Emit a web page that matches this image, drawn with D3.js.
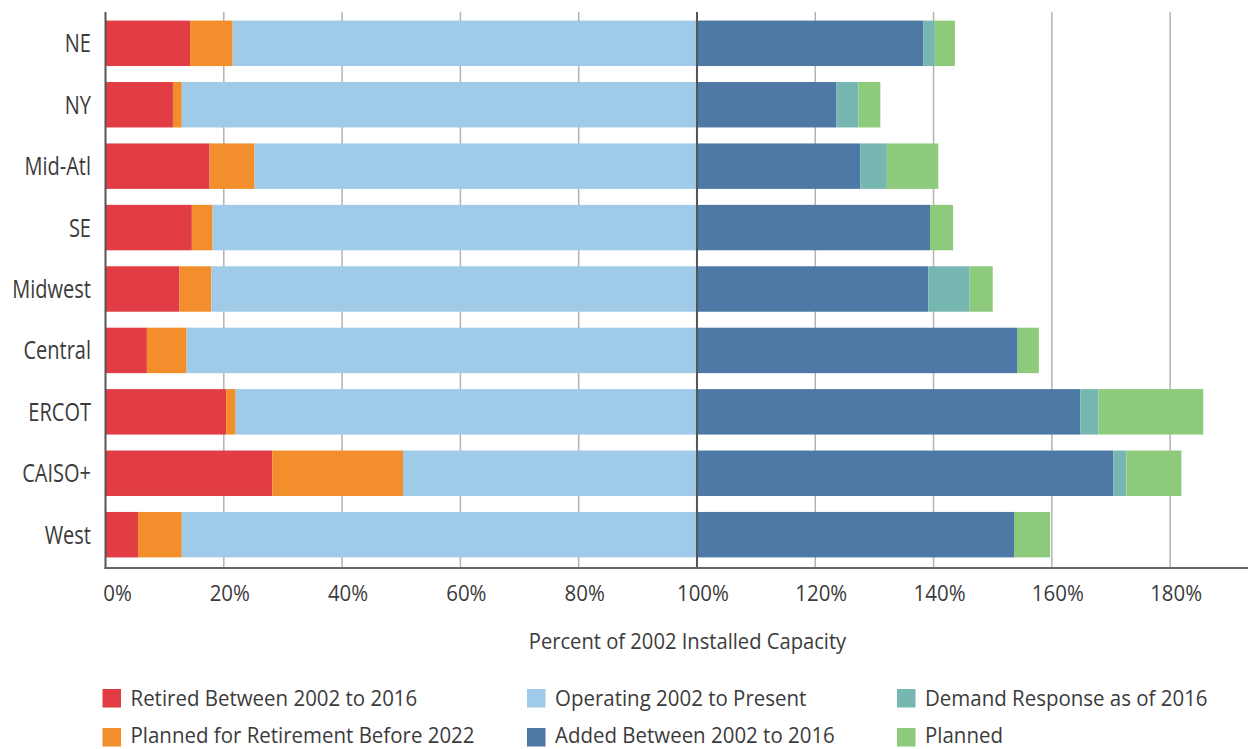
<!DOCTYPE html>
<html>
<head>
<meta charset="utf-8">
<script src="https://cdn.jsdelivr.net/npm/d3@7"></script>
<style>
  html, body { margin: 0; padding: 0; background: #fff; }
  svg { display: block; font-family: "Open Sans", "Noto Sans", sans-serif; }
</style>
</head>
<body>
<svg id="chart" width="1248" height="749"></svg>
<script>
const categories = ["NE", "NY", "Mid-Atl", "SE", "Midwest", "Central", "ERCOT", "CAISO+", "West"];
const retired            = [14.3, 11.4, 17.6, 14.6, 12.5,  7.0, 20.4, 28.2,  5.5];
const plannedRetirement  = [ 7.2,  1.5,  7.6,  3.5,  5.4,  6.7,  1.6, 22.1,  7.4];
const operating          = [78.5, 87.1, 74.8, 81.9, 82.1, 86.3, 78.0, 49.7, 87.1];
const added              = [38.3, 23.6, 27.6, 39.4, 39.1, 54.2, 64.8, 70.4, 53.6];
const demandResponse     = [ 1.9,  3.7,  4.5,  0.0,  7.0,  0.0,  3.1,  2.2,  0.0];
const planned            = [ 3.4,  3.7,  8.7,  3.9,  3.9,  3.6, 17.7,  9.3,  6.1];
const tickValues = [0, 20, 40, 60, 80, 100, 120, 140, 160, 180];
const axisTitle = "Percent of 2002 Installed Capacity";
const seriesNames = ["Retired Between 2002 to 2016", "Planned for Retirement Before 2022",
  "Operating 2002 to Present", "Added Between 2002 to 2016", "Demand Response as of 2016", "Planned"];
const seriesKeys = ["retired", "plannedRetirement", "operating", "added", "demandResponse", "planned"];
const seriesColors = ["#e23d44", "#f28e2b", "#a0cbe8", "#4e79a7", "#76b7b2", "#8dca7c"];

const rows = categories.map((c, i) => ({
  category: c,
  retired: retired[i], plannedRetirement: plannedRetirement[i], operating: operating[i],
  added: added[i], demandResponse: demandResponse[i], planned: planned[i]
}));

const svg = d3.select("#chart");
const x = d3.scaleLinear().domain([0, 190]).range([105.5, 1229.3]);
const y = d3.scaleBand().domain(categories).range([12, 566]).paddingInner(0.26).paddingOuter(0.14);
const plotTop = 12, plotBottom = 568;
const textColor = "#3b3b3b";

function condense(sel, k) {
  sel.each(function () {
    const w = this.getComputedTextLength();
    d3.select(this).attr("textLength", w * k).attr("lengthAdjust", "spacingAndGlyphs");
  });
}

// gridlines
svg.append("g").selectAll("line").data(tickValues.filter(v => v !== 0 && v !== 100)).join("line")
  .attr("x1", d => x(d)).attr("x2", d => x(d))
  .attr("y1", plotTop).attr("y2", plotBottom)
  .attr("stroke", "#b3b3b3").attr("stroke-width", 1.5);

// bars
const stack = d3.stack().keys(seriesKeys);
const stacked = stack(rows);
const color = d3.scaleOrdinal().domain(seriesKeys).range(seriesColors);
svg.append("g").selectAll("g").data(stacked).join("g")
  .attr("fill", d => color(d.key))
  .selectAll("rect").data(d => d).join("rect")
  .attr("x", d => x(d[0]))
  .attr("width", d => Math.max(0, x(d[1]) - x(d[0])))
  .attr("y", d => y(d.data.category))
  .attr("height", y.bandwidth());

// 100% line and axes
svg.append("line").attr("x1", x(100)).attr("x2", x(100)).attr("y1", plotTop).attr("y2", plotBottom)
  .attr("stroke", "#555").attr("stroke-width", 2);
svg.append("line").attr("x1", x(0)).attr("x2", x(0)).attr("y1", plotTop).attr("y2", plotBottom + 1)
  .attr("stroke", "#555").attr("stroke-width", 2);
svg.append("line").attr("x1", x(0) - 1).attr("x2", 1248).attr("y1", plotBottom).attr("y2", plotBottom)
  .attr("stroke", "#666").attr("stroke-width", 2);

// y labels
const yl = svg.append("g").selectAll("text").data(categories).join("text")
  .attr("x", 91).attr("y", d => y(d) + y.bandwidth() / 2).attr("dy", "0.36em")
  .attr("text-anchor", "end").attr("font-size", 25).attr("fill", textColor)
  .text(d => d);
condense(yl, 0.8);

// x tick labels
const xl = svg.append("g").selectAll("text").data(tickValues).join("text")
  .attr("x", d => x(d) + (d === 0 ? 12 : 6)).attr("y", 600.5)
  .attr("text-anchor", "middle").attr("font-size", 22).attr("fill", textColor)
  .text(d => d + "%");
condense(xl, 0.93);

// axis title
const at = svg.append("text").attr("x", 687.5).attr("y", 649)
  .attr("text-anchor", "middle").attr("font-size", 21).attr("fill", textColor)
  .text(axisTitle);
condense(at, 0.96);

// legend
const legendCols = [102.5, 527, 897];
const legendRows = [698.5, 737.5];
const legendItems = seriesNames.map((name, i) => ({
  name, color: seriesColors[i], col: Math.floor(i / 2), row: i % 2
}));
const lg = svg.append("g").selectAll("g").data(legendItems).join("g")
  .attr("transform", d => `translate(${legendCols[d.col]},${legendRows[d.row]})`);
lg.append("rect").attr("x", 0).attr("y", -9.5).attr("width", 18.5).attr("height", 18.5)
  .attr("fill", d => d.color);
const lt = lg.append("text").attr("x", 28).attr("y", d => d.row === 1 ? -2 : 0).attr("dy", "0.36em")
  .attr("font-size", 22).attr("fill", textColor).text(d => d.name);
condense(lt, 0.93);
</script>
</body>
</html>
